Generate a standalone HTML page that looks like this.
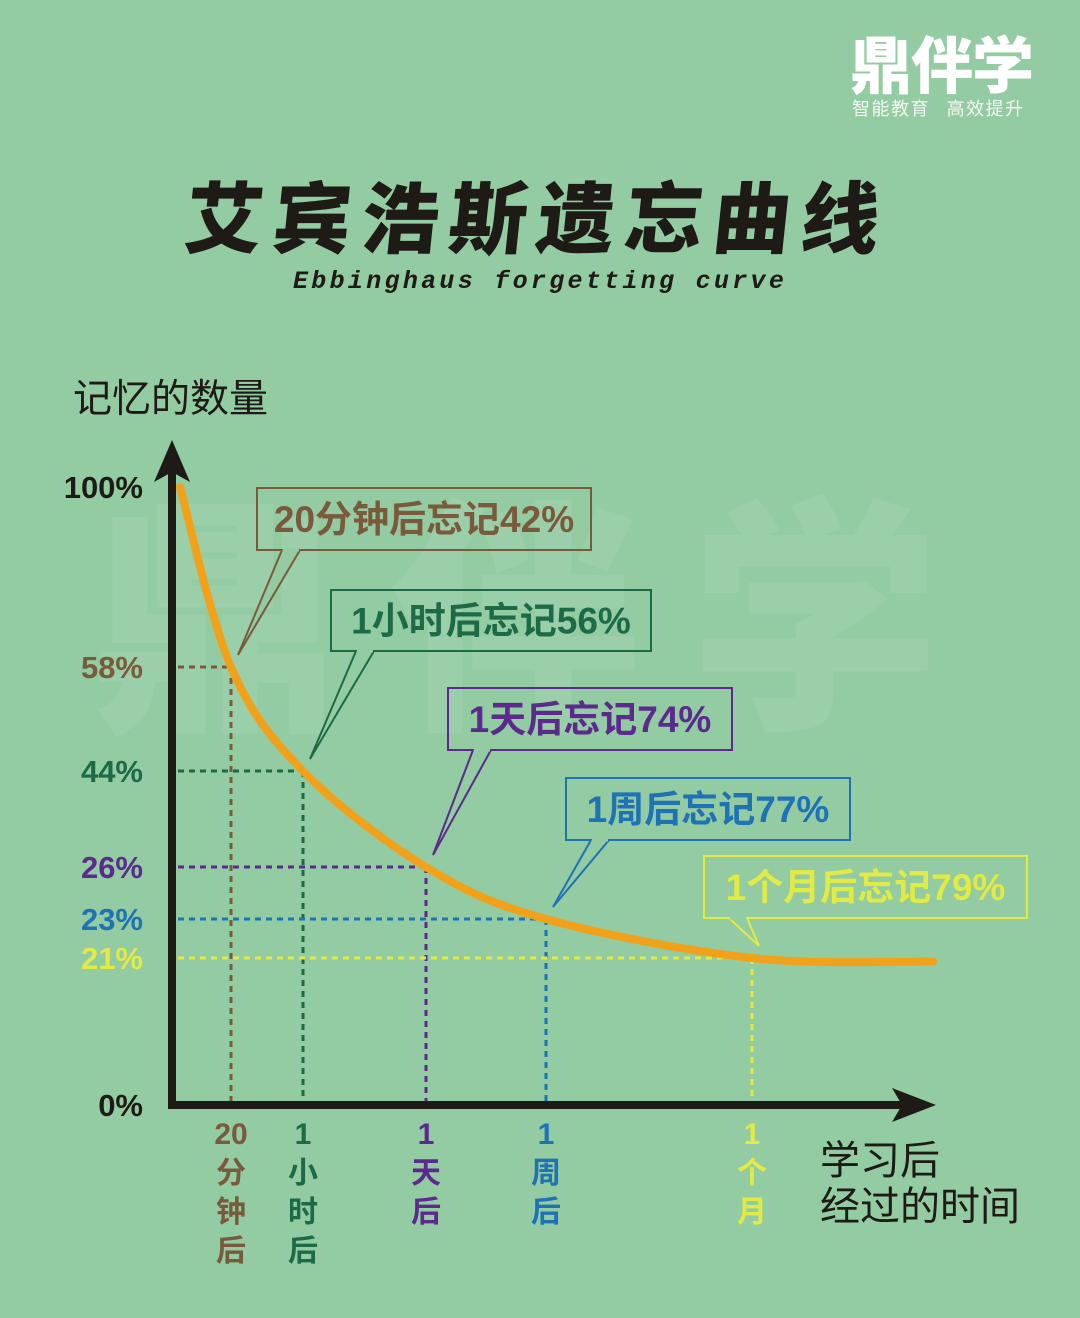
<!DOCTYPE html>
<html><head><meta charset="utf-8">
<style>
html,body{margin:0;padding:0}
body{width:1080px;height:1318px;background:#93cba2;position:relative;overflow:hidden;font-family:"Liberation Sans","Noto Sans CJK SC",sans-serif}
.abs{position:absolute}
</style></head>
<body>
<div class="abs" style="left:850px;top:26px;color:#fff;font-weight:900;font-size:62px;line-height:70px;letter-spacing:-1px;font-family:'Noto Sans CJK SC',sans-serif">鼎伴学</div>
<div class="abs" style="left:852px;top:96px;color:#f4f8f4;font-size:18px;line-height:24px;letter-spacing:1.5px;font-family:'Noto Sans CJK SC',sans-serif">智能教育&nbsp;&nbsp;&nbsp;高效提升</div>
<div class="abs" style="left:186px;top:168px;width:730px;color:#1e1a16;font-weight:900;font-size:78px;line-height:92px;letter-spacing:10px;font-family:'Noto Sans CJK SC',sans-serif;transform:skewX(-6deg)">艾宾浩斯遗忘曲线</div>
<div class="abs" style="left:293px;top:266px;color:#1e1a16;font-weight:bold;font-size:25px;line-height:32px;letter-spacing:3.3px;font-family:'Liberation Mono',monospace;font-style:italic">Ebbinghaus forgetting curve</div>
<div class="abs" style="left:73px;top:370px;color:#1e1a16;font-size:39px;line-height:52px;font-family:'Noto Sans CJK SC',sans-serif">记忆的数量</div>
<div class="abs" style="left:820px;top:1134px;color:#1e1a16;font-size:40px;line-height:46px;font-family:'Noto Sans CJK SC',sans-serif">学习后<br>经过的时间</div>
<svg id="chart" class="abs" style="left:0;top:0" width="1080" height="1318"></svg>
<script>
const categories=["20分钟后","1小时后","1天后","1周后","1个月后"];
const timeIndex=[1,2,3,4,5];
const retention=[58,44,26,23,21];
const forgotten=[42,56,74,77,79];
const colors=["#7a5a3c","#1d6a47","#5b2a8c","#1f72b4","#e2ea44"];
const xLabels=[["20","分","钟","后"],["1","小","时","后"],["1","天","后"],["1","周","后"],["1","个","月"]];
const yTicks=[100,58,44,26,23,21,0];
const yTickColors=["#1e1a16","#7a5a3c","#1d6a47","#5b2a8c","#1f72b4","#e2ea44","#1e1a16"];
const curveStart=[0,100];
const curveEnd=[6.1,20.5];
const calloutBoxes=[[257,488,334,62],[331,590,320,61],[448,688,284,62],[566,778,284,62],[704,856,323,62]];

function pw(dom,rng){return v=>{for(let i=0;i<dom.length-1;i++){const a=dom[i],b=dom[i+1];if((v>=Math.min(a,b)&&v<=Math.max(a,b))||i==dom.length-2){return rng[i]+(v-a)/(b-a)*(rng[i+1]-rng[i]);}}};}
const yScale=pw([0,21,23,26,44,58,100],[1105,958,919,867,771,667,487]);
const xScale=pw([0,1,2,3,4,5,6.1],[180,231,303,426,546,752,933]);
const svg=document.getElementById('chart');
const NS="http://www.w3.org/2000/svg";
function mk(t,a,parent){const e=document.createElementNS(NS,t);for(const k in a)e.setAttribute(k,a[k]);(parent||svg).appendChild(e);return e;}

const wm=mk('text',{x:90,y:710,'font-size':250,'font-weight':900,fill:'#ffffff','fill-opacity':0.08,'font-family':'Noto Sans CJK SC,sans-serif',textLength:850});


wm.textContent='鼎伴学';

for(let i=0;i<retention.length;i++){
 const px=xScale(timeIndex[i]),py=yScale(retention[i]);
 const h=mk('line',{x1:178,y1:py,x2:px,y2:py,stroke:colors[i],'stroke-width':3,'stroke-dasharray':'6,5'});
 
 
 const v=mk('line',{x1:px,y1:py,x2:px,y2:1103,stroke:colors[i],'stroke-width':3,'stroke-dasharray':'6,5'});
 
 
}
const pts=[[xScale(curveStart[0]),yScale(curveStart[1])]];
for(let i=0;i<retention.length;i++)pts.push([xScale(timeIndex[i]),yScale(retention[i])]);
pts.push([xScale(curveEnd[0]),yScale(curveEnd[1])]);
let d='M'+pts[0][0]+','+pts[0][1];
for(let i=0;i<pts.length-1;i++){
 const p0=pts[Math.max(0,i-1)],p1=pts[i],p2=pts[i+1],p3=pts[Math.min(pts.length-1,i+2)];
 const c1=[p1[0]+(p2[0]-p0[0])/6,p1[1]+(p2[1]-p0[1])/6];
 const c2=[p2[0]-(p3[0]-p1[0])/6,p2[1]-(p3[1]-p1[1])/6];
 d+=` C${c1[0]},${c1[1]} ${c2[0]},${c2[1]} ${p2[0]},${p2[1]}`;
}
const curve=mk('path',{d:d,fill:'none',stroke:'#f2a21a','stroke-width':8,'stroke-linecap':'round'});



const ya=mk('line',{x1:172,y1:470,x2:172,y2:1108,stroke:'#1e1a16','stroke-width':8});


const yar=mk('path',{d:'M172,440 L154,482 L172,472 L190,482 Z',fill:'#1e1a16'});


const xa=mk('line',{x1:168,y1:1105,x2:910,y2:1105,stroke:'#1e1a16','stroke-width':8});


const xar=mk('path',{d:'M936,1105 L892,1088 L902,1105 L892,1122 Z',fill:'#1e1a16'});



for(let i=0;i<yTicks.length;i++){
 const t=mk('text',{x:143,y:yScale(yTicks[i])+11,'text-anchor':'end','font-size':31,'font-weight':'bold',fill:yTickColors[i],'font-family':'Liberation Sans,sans-serif'});
 
 
 t.textContent=yTicks[i]+'%';
}
for(let i=0;i<xLabels.length;i++){
 const px=xScale(timeIndex[i]);
 const t=mk('text',{'text-anchor':'middle','font-size':30,'font-weight':'bold',fill:colors[i],'font-family':'Liberation Sans,Noto Sans CJK SC,sans-serif'});
 
 
 xLabels[i].forEach((s,j)=>{const ts=mk('tspan',{x:px,y:1144+j*39},t);ts.textContent=s;});
}
for(let i=0;i<forgotten.length;i++){
 const [bx,by,bw,bh]=calloutBoxes[i];
 const px=xScale(timeIndex[i]),py=yScale(retention[i]);
 const g=mk('g',{});
 
 
 mk('rect',{x:bx,y:by,width:bw,height:bh,fill:'none',stroke:colors[i],'stroke-width':2},g);
 mk('path',{d:`M${bx+25},${by+bh} L${px+7},${py-12} L${bx+43},${by+bh}`,fill:'#93cba2',stroke:colors[i],'stroke-width':2},g);
 mk('line',{x1:bx+26,y1:by+bh,x2:bx+42,y2:by+bh,stroke:'#93cba2','stroke-width':3},g);
 const t=mk('text',{x:bx+bw/2,y:by+bh/2+13,'text-anchor':'middle','font-size':37,'font-weight':'bold',fill:colors[i],'font-family':'Liberation Sans,Noto Sans CJK SC,sans-serif'},g);
 t.textContent=categories[i]+'忘记'+forgotten[i]+'%';
}
</script>
</body></html>
